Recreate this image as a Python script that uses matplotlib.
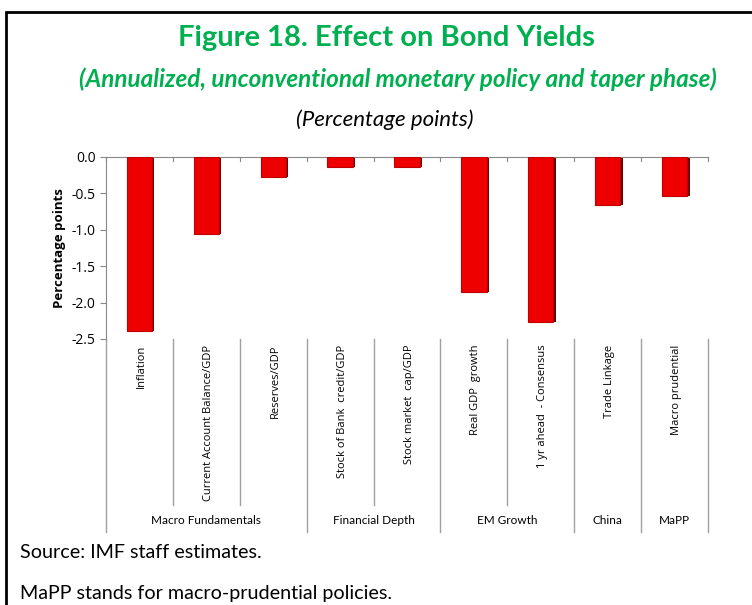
import numpy as np
import matplotlib.pyplot as plt
from matplotlib.patches import Rectangle

categories = ["Inflation", "Current Account Balance/GDP", "Reserves/GDP",
              "Stock of Bank  credit/GDP", "Stock market  cap/GDP",
              "Real GDP  growth", "1 yr ahead  - Consensus",
              "Trade Linkage", "Macro prudential"]
values = [-2.39, -1.06, -0.28, -0.14, -0.14, -1.85, -2.26, -0.66, -0.53]
groups = ["Macro Fundamentals", "Financial Depth", "EM Growth", "China", "MaPP"]
group_sizes = [3, 2, 2, 1, 1]
yticks = [0.0, -0.5, -1.0, -1.5, -2.0, -2.5]

green = "#00B050"
narrow = ["Lato", "DejaVu Sans"]
plt.rcParams["font.family"] = ["Open Sans", "DejaVu Sans"]

W, H = 752, 605
fig = plt.figure(figsize=(W / 100, H / 100), dpi=100)

# outer frame
fig.patches.append(Rectangle((6 / W, -0.1), 1.2, 1 - 12 / H + 0.1, transform=fig.transFigure,
                             fill=False, edgecolor="black", linewidth=2))

fig.text(386 / W, 1 - 38 / H, "Figure 18. Effect on Bond Yields", color=green,
         fontsize=21, fontweight="bold", ha="center", va="center", family=narrow)
fig.text(398 / W, 1 - 79 / H, "(Annualized, unconventional monetary policy and taper phase)",
         color=green, fontsize=17.5, fontweight="bold", style="italic", ha="center", va="center",
         family=narrow)
fig.text(385 / W, 1 - 120 / H, "(Percentage points)", fontsize=16, style="italic",
         ha="center", va="center", family=narrow)

ax = fig.add_axes([106 / W, 1 - 339 / H, (708 - 106) / W, (339 - 157) / H])
x = np.arange(len(categories))
# shadow then bar for a bevelled look
ax.bar(x + 0.025, values, width=0.4, color="#6a0000", zorder=2)
ax.bar(x, values, width=0.38, color="#EE0000", edgecolor="#c00000", linewidth=0.8, zorder=3)

ax.set_xlim(-0.5, len(categories) - 0.5)
ax.set_ylim(-2.5, 0)
ax.set_yticks(yticks)
ax.set_yticklabels(["%.1f" % v for v in yticks], fontsize=10)
ax.set_ylabel("Percentage points", fontsize=9.5, fontweight="bold")
ax.set_xticks([])
for s in ["right", "bottom"]:
    ax.spines[s].set_visible(False)
ax.spines["left"].set_color("#888888")
ax.spines["top"].set_color("#888888")
ax.tick_params(axis="y", color="#888888", length=4)
for b in np.arange(len(categories) + 1) - 0.5:
    ax.plot([b, b], [0, -0.05], color="#888888", lw=0.8, clip_on=False)

# category labels and separators below the plot
trans = ax.get_xaxis_transform()
y_short = -(505 - 339) / (339 - 157)
y_long = -(532 - 339) / (339 - 157)
for i, c in enumerate(categories):
    ax.text(i + 0.03, -0.03, c, rotation=90, ha="center", va="top", fontsize=8,
            transform=trans)
edges = np.concatenate([[0], np.cumsum(group_sizes)]) - 0.5
for b in np.arange(len(categories) + 1) - 0.5:
    bottom = y_long if b in edges else y_short
    ax.plot([b, b], [0, bottom], color="#a0a0a0", lw=1, transform=trans, clip_on=False)
for g, lo, hi in zip(groups, edges[:-1], edges[1:]):
    ax.text((lo + hi) / 2, -(521 - 339) / (339 - 157), g, ha="center", va="center",
            fontsize=8.5, transform=trans, family=narrow)

fig.text(20 / W, 1 - 552 / H, "Source: IMF staff estimates.", fontsize=14.2, va="center",
         family=narrow)
fig.text(20 / W, 1 - 593 / H, "MaPP stands for macro-prudential policies.", fontsize=14.2,
         va="center", family=narrow)

fig.savefig("out.png", dpi=100)
